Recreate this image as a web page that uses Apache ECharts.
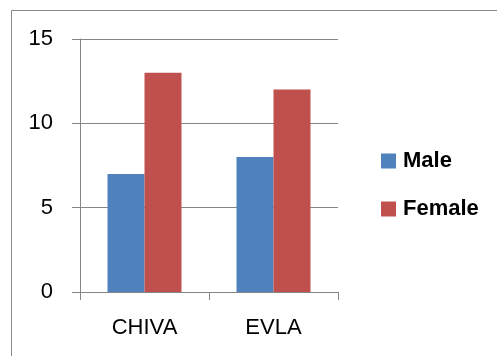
<!DOCTYPE html>
<html>
<head>
<meta charset="utf-8">
<script src="https://cdn.jsdelivr.net/npm/echarts@6/dist/echarts.min.js"></script>
<style>
html,body{margin:0;padding:0;background:#fff;}
#chart{width:497px;height:356px;}
</style>
</head>
<body>
<div id="chart"></div>
<script>
var categories = ['CHIVA', 'EVLA'];
var maleValues = [7, 8];
var femaleValues = [13, 12];
var yTicks = [0, 5, 10, 15];

var FONT = '"Liberation Sans", Arial, sans-serif';
var chart = echarts.init(document.getElementById('chart'), null, {renderer: 'canvas'});
chart.setOption({
  animation: false,
  backgroundColor: '#fff',
  graphic: [{
    type: 'rect',
    shape: {x: 11.5, y: 10.5, width: 1000, height: 1000},
    style: {fill: 'none', stroke: '#8a8a8a', lineWidth: 1},
    silent: true
  }],
  grid: {left: 80, right: 159, top: 39, bottom: 64, containLabel: false},
  legend: {
    orient: 'vertical',
    left: 376,
    top: 145,
    itemWidth: 15,
    itemHeight: 15,
    itemGap: 26,
    icon: 'rect',
    data: ['Male', 'Female'],
    textStyle: {fontFamily: FONT, fontSize: 22, fontWeight: 'bold', color: '#000', lineHeight: 22, padding: [0, 0, 0, 2]}
  },
  xAxis: {
    type: 'category',
    data: categories,
    axisLine: {show: true, lineStyle: {color: '#868686', width: 1}},
    axisTick: {show: true, length: 8, lineStyle: {color: '#868686'}},
    axisLabel: {fontFamily: FONT, fontSize: 22, color: '#000', margin: 25}
  },
  yAxis: {
    type: 'value',
    min: yTicks[0],
    max: yTicks[yTicks.length - 1],
    interval: 5,
    axisLine: {show: true, lineStyle: {color: '#868686', width: 1}},
    axisTick: {show: true, length: 8, lineStyle: {color: '#868686'}},
    splitLine: {show: true, lineStyle: {color: '#868686', width: 1}},
    axisLabel: {fontFamily: FONT, fontSize: 22, color: '#000', margin: 27}
  },
  series: [{
    name: 'Male',
    type: 'bar',
    data: maleValues,
    barWidth: 37,
    barGap: '0%',
    itemStyle: {color: '#4F81BD'}
  }, {
    name: 'Female',
    type: 'bar',
    data: femaleValues,
    barWidth: 37,
    barGap: '0%',
    itemStyle: {color: '#C0504D'}
  }]
});
</script>
</body>
</html>
